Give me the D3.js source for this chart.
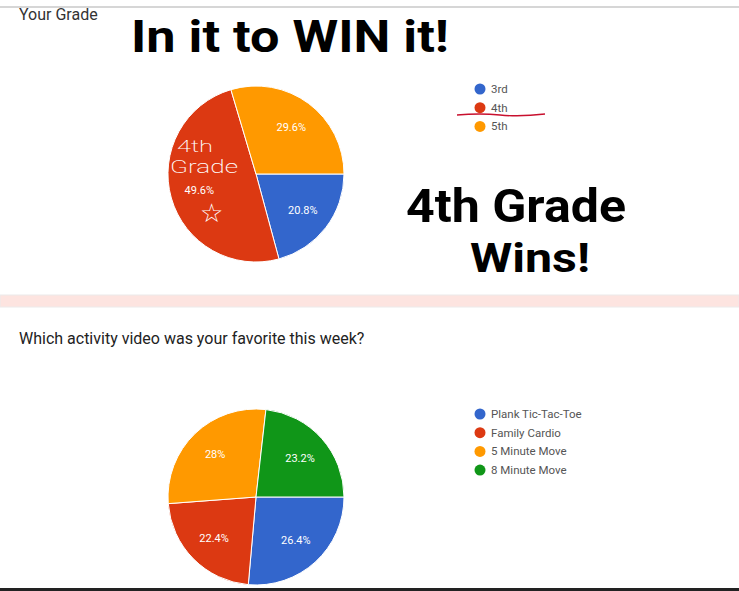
<!DOCTYPE html>
<html>
<head>
<meta charset="utf-8">
<script src="https://cdn.jsdelivr.net/npm/d3@7"></script>
<style>
  body { margin: 0; background: #fff; }
  text { font-family: Roboto, "Noto Sans", Arial, sans-serif; }
</style>
</head>
<body>
<div class="chart"></div>
<script>
// chart data
var gradeLabels = ["3rd", "4th", "5th"];
var gradeValues = [20.8, 49.6, 29.6];
var gradeColors = ["#3366cc", "#dc3912", "#ff9900"];

var videoLabels = ["Plank Tic-Tac-Toe", "Family Cardio", "5 Minute Move", "8 Minute Move"];
var videoValues = [26.4, 22.4, 28, 23.2];
var videoColors = ["#3366cc", "#dc3912", "#ff9900", "#109618"];

var svgWidth = 739;
var svgHeight = 591;

var svg = d3.select(".chart")
  .append("svg")
  .attr("width", svgWidth)
  .attr("height", svgHeight)
  .style("display", "block");

svg.append("rect").attr("width", svgWidth).attr("height", svgHeight).attr("fill", "#fff");

// page chrome: top rule, pink divider, bottom edge
svg.append("rect").attr("x", 0).attr("y", 6).attr("width", svgWidth).attr("height", 2).attr("fill", "#d6d6d6");
svg.append("rect").attr("x", 0).attr("y", 295).attr("width", svgWidth).attr("height", 12)
  .attr("fill", "#fde4e0").attr("stroke", "#eceaea").attr("stroke-width", 1);
svg.append("rect").attr("x", 0).attr("y", 588).attr("width", svgWidth).attr("height", 3).attr("fill", "#222");

var pie = d3.pie()
  .sort(null)
  .startAngle(Math.PI / 2)
  .endAngle(Math.PI / 2 + 2 * Math.PI);

var radius = 88;
var arc = d3.arc().innerRadius(0).outerRadius(radius);
var labelArc = d3.arc().innerRadius(radius * 0.67).outerRadius(radius * 0.67);

function drawPie(cx, cy, values, colors) {
  var g = svg.append("g").attr("transform", `translate(${cx}, ${cy})`);
  var slices = pie(values);

  g.selectAll("path")
    .data(slices)
    .enter()
    .append("path")
    .attr("d", arc)
    .attr("fill", (d, i) => colors[i])
    .attr("stroke", "#fff")
    .attr("stroke-width", 1);

  g.selectAll("text.pct")
    .data(slices)
    .enter()
    .append("text")
    .attr("class", "pct")
    .attr("transform", d => `translate(${labelArc.centroid(d)})`)
    .attr("text-anchor", "middle")
    .attr("dy", "0.35em")
    .attr("font-size", "11px")
    .attr("fill", "#fff")
    .text(d => `${d.data}%`);
  return g;
}

function drawLegend(x, y, labels, colors) {
  var yScale = d3.scalePoint().domain(labels).range([0, (labels.length - 1) * 18.7]);
  var g = svg.append("g").attr("transform", `translate(${x}, ${y})`);
  var rows = g.selectAll("g")
    .data(labels)
    .enter()
    .append("g")
    .attr("transform", d => `translate(0, ${yScale(d)})`);
  rows.append("circle").attr("r", 5.5).attr("fill", (d, i) => colors[i]);
  rows.append("text")
    .attr("x", 11)
    .attr("dy", "0.35em")
    .attr("font-size", "11.5px")
    .attr("fill", "#555")
    .text(d => d);
}

// first question
svg.append("text")
  .attr("x", 19).attr("y", 20)
  .attr("font-size", "16px")
  .attr("fill", "#333")
  .text("Your Grade");

drawPie(256, 174, gradeValues, gradeColors);
drawLegend(480, 89, gradeLabels, gradeColors);

// second question
svg.append("text")
  .attr("x", 19).attr("y", 344)
  .attr("font-size", "16px")
  .attr("fill", "#222")
  .text("Which activity video was your favorite this week?");

drawPie(256, 497, videoValues, videoColors);
drawLegend(480, 414, videoLabels, videoColors);

// handwritten notes
var hand = svg.append("g")
  .attr("font-family", "'DejaVu Sans Condensed', 'DejaVu Sans', sans-serif")
  .attr("font-weight", "bold")
  .attr("fill", "#000");

hand.append("text")
  .attr("x", 131).attr("y", 52)
  .attr("font-size", "44px")
  .attr("textLength", 318).attr("lengthAdjust", "spacingAndGlyphs")
  .text("In it to WIN it!");

hand.append("text")
  .attr("x", 406).attr("y", 222)
  .attr("font-size", "46px")
  .attr("textLength", 220).attr("lengthAdjust", "spacingAndGlyphs")
  .text("4th Grade");

hand.append("text")
  .attr("x", 470).attr("y", 272)
  .attr("font-size", "40px")
  .attr("textLength", 120).attr("lengthAdjust", "spacingAndGlyphs")
  .text("Wins!");

// red underline under the 4th legend entry
svg.append("path")
  .attr("d", "M457,115 Q480,113 500,115 T545,114")
  .attr("fill", "none")
  .attr("stroke", "#c8102e")
  .attr("stroke-width", 1.4);

// white scribbles on the 4th grade slice
var scrib = svg.append("g")
  .attr("font-family", "'DejaVu Sans', sans-serif")
  .attr("font-weight", 200)
  .attr("fill", "#fff");
scrib.append("text").attr("x", 177).attr("y", 152).attr("font-size", "17px")
  .attr("textLength", 36).attr("lengthAdjust", "spacingAndGlyphs").text("4th");
scrib.append("text").attr("x", 170).attr("y", 173).attr("font-size", "19px")
  .attr("textLength", 68).attr("lengthAdjust", "spacingAndGlyphs").text("Grade");
scrib.append("text").attr("x", 211).attr("y", 222).attr("font-size", "26px")
  .attr("text-anchor", "middle").text("☆");
</script>
</body>
</html>
